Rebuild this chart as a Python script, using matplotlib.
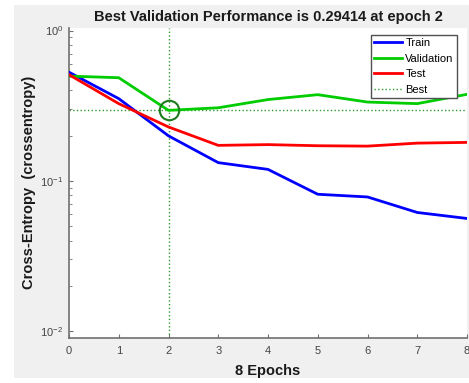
import matplotlib
matplotlib.use("Agg")
import matplotlib.pyplot as plt
from matplotlib.patches import Rectangle
from matplotlib.ticker import LogLocator, LogFormatterMathtext, NullFormatter

epochs = [0, 1, 2, 3, 4, 5, 6, 7, 8]
train = [0.528, 0.352, 0.199, 0.132, 0.119, 0.0813, 0.078, 0.0615, 0.0561]
validation = [0.497, 0.485, 0.29414, 0.306, 0.347, 0.374, 0.334, 0.326, 0.376]
test = [0.508, 0.326, 0.228, 0.172, 0.174, 0.171, 0.170, 0.178, 0.180]
best_epoch = 2
best_value = 0.29414
title_text = "Best Validation Performance is 0.29414 at epoch 2"

plt.rcParams['font.family'] = ['Liberation Sans', 'DejaVu Sans']
plt.rcParams['axes.unicode_minus'] = False

fig = plt.figure(figsize=(4.69, 3.83), dpi=100)
fig.patch.set_facecolor('white')
fig.patches.append(Rectangle((14/469, 1-378/383), 1-14/469, (378-5)/383,
                             transform=fig.transFigure, facecolor='#f0f0f0',
                             edgecolor='none', zorder=-10))

ax = fig.add_axes([69/469, 1-337.5/383, 398/469, 310/383])
ax.set_facecolor('white')

ax.plot(epochs, train, color='#0000ff', lw=2.0, label='Train', zorder=3)
ax.plot(epochs, validation, color='#00cc00', lw=2.0, label='Validation', zorder=3)
ax.plot(epochs, test, color='#ff0000', lw=2.0, label='Test', zorder=3)
ax.axvline(best_epoch, color='#2e9a2e', ls=':', lw=1.0, label='Best', zorder=2)
ax.axhline(best_value, color='#2e9a2e', ls=':', lw=1.0, zorder=2)
ax.plot([best_epoch], [best_value], 'o', mfc='none', mec='#1e7b1e', ms=14, mew=1.5, zorder=4)

ax.set_yscale('log')
ax.set_xlim(0, 8)
ax.set_ylim(10**(-2 - 6.5/150.25), 10**(3/150.25))
ax.set_xticks(epochs)
ax.yaxis.set_major_locator(LogLocator(base=10, numticks=5))
ax.yaxis.set_major_formatter(LogFormatterMathtext())
ax.yaxis.set_minor_locator(LogLocator(base=10, subs=range(2, 10), numticks=10))
ax.yaxis.set_minor_formatter(NullFormatter())

for s in ['top', 'right']:
    ax.spines[s].set_visible(False)
for s in ['left', 'bottom']:
    ax.spines[s].set_color('#707070')
    ax.spines[s].set_linewidth(1.2)
ax.tick_params(axis='both', which='both', direction='in', colors='#707070', labelcolor='#454545', labelsize=8)
ax.tick_params(axis='both', which='major', length=3)
ax.tick_params(axis='y', which='minor', length=2)
ax.tick_params(axis='x', pad=6)
ax.tick_params(axis='y', pad=4)

ax.set_title(title_text, fontsize=10.5, fontweight='bold', color='#1a1a1a', pad=5)
ax.set_xlabel('8 Epochs', fontsize=10.5, fontweight='bold', color='#1a1a1a', labelpad=6)
ax.set_ylabel('Cross-Entropy  (crossentropy)', fontsize=10.5, fontweight='bold', color='#1a1a1a', labelpad=3)

leg = ax.legend(loc='upper right', bbox_to_anchor=(0.975, 0.976), borderaxespad=0,
                fontsize=8, fancybox=False, framealpha=1, edgecolor='#505050',
                handlelength=2.5, handletextpad=0.3, labelspacing=0.5, borderpad=0.3)
leg.get_frame().set_linewidth(1.0)

fig.savefig('out.png', dpi=100, facecolor=fig.get_facecolor())
